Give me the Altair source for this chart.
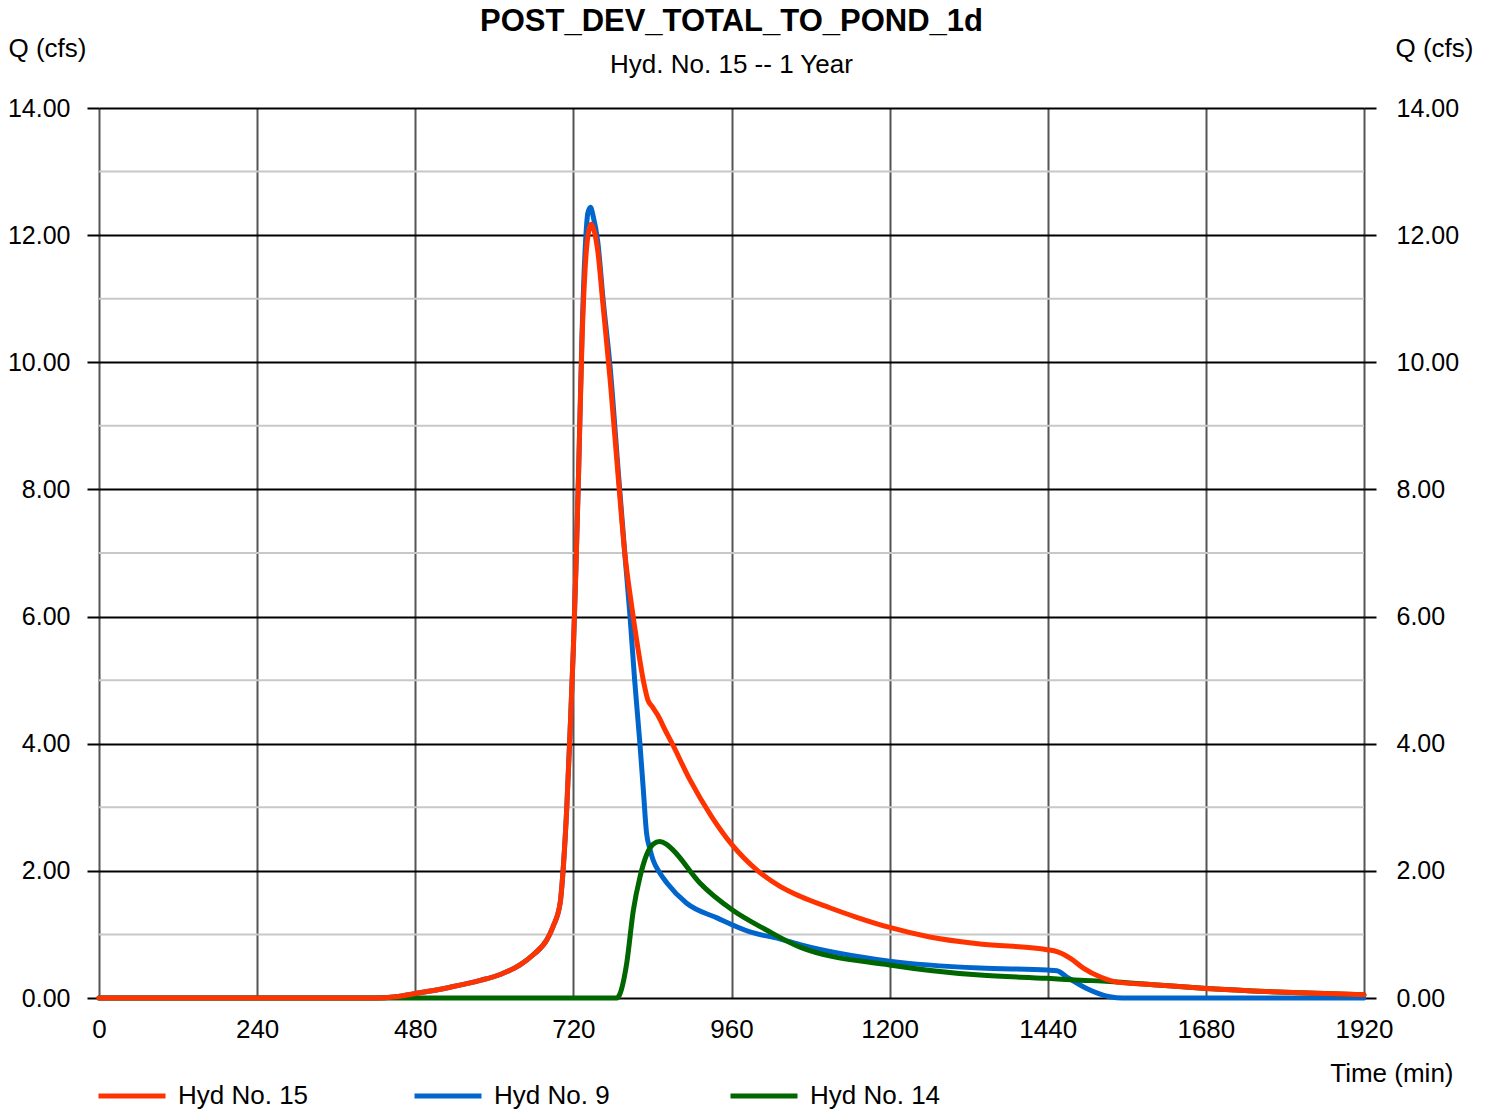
import altair as alt
import pandas as pd

# ---- data ----
t15 = [0, 420, 450, 480, 533, 580, 609, 639, 659, 680, 689, 700, 705, 710, 715, 720, 724, 728, 733,
       738, 743, 747, 752, 757, 765, 776, 788, 798, 808, 818, 827, 833, 840, 848, 860, 870, 897, 930, 960,
       1000, 1033, 1064, 1109, 1150, 1200, 1261, 1337, 1439, 1454, 1475, 1494, 1520, 1545, 1600, 1681, 1800, 1920]
q15 = [0, 0, 0.02, 0.07, 0.17, 0.28, 0.37, 0.52, 0.68, 0.92, 1.12, 1.5, 2.1, 3.0, 4.2, 5.5, 6.8, 8.3, 10.3,
       11.5, 12.05, 12.17, 12.05, 11.75, 10.9, 9.7, 8.2, 7.0, 6.2, 5.5, 4.95, 4.69, 4.58, 4.45, 4.2, 4.0, 3.43, 2.85, 2.42,
       2.0, 1.76, 1.60, 1.42, 1.27, 1.11, 0.96, 0.85, 0.76, 0.73, 0.62, 0.47, 0.33, 0.25, 0.21, 0.15, 0.09, 0.05]

t9 = [0, 420, 450, 480, 533, 580, 609, 639, 659, 680, 689, 700, 705, 710, 715, 720, 724, 728, 733,
      738, 742, 746, 750, 757, 765, 776, 788, 798, 806, 813, 821, 826, 831, 836, 841, 851, 862, 892, 938, 988,
      1033, 1064, 1200, 1337, 1439, 1454, 1469, 1499, 1534, 1554, 1920]
q9 = [0, 0, 0.02, 0.07, 0.17, 0.28, 0.37, 0.52, 0.68, 0.92, 1.12, 1.5, 2.1, 3.0, 4.2, 5.5, 6.8, 8.3, 10.4,
      11.8, 12.35, 12.44, 12.3, 11.9, 11.0, 9.9, 8.3, 7.0, 6.0, 5.0, 4.0, 3.3, 2.6, 2.35, 2.17, 1.97, 1.81, 1.49, 1.26, 1.04,
      0.93, 0.84, 0.58, 0.47, 0.44, 0.43, 0.33, 0.15, 0.02, 0, 0]

t14 = [0, 786, 790, 801, 811, 821, 831, 841, 851, 861, 871, 912, 962, 1013, 1064, 1200, 1337, 1439,
       1489, 1534, 1545, 1600, 1681, 1800, 1920]
q14 = [0, 0, 0.05, 0.55, 1.38, 1.9, 2.25, 2.42, 2.46, 2.42, 2.33, 1.81, 1.38, 1.07, 0.80, 0.52, 0.36, 0.31,
       0.28, 0.26, 0.25, 0.21, 0.15, 0.09, 0.05]

series_names = ["Hyd No. 15", "Hyd No. 9", "Hyd No. 14"]
series_colors = ["#FF3300", "#0066CC", "#006600"]

x_ticks = list(range(0, 1921, 240))
y_major = [0, 2, 4, 6, 8, 10, 12, 14]
y_minor = [1, 3, 5, 7, 9, 11, 13]

FONT = "Liberation Sans"

df15 = pd.DataFrame({"t": t15, "q": q15, "s": series_names[0]})
df9 = pd.DataFrame({"t": t9, "q": q9, "s": series_names[1]})
df14 = pd.DataFrame({"t": t14, "q": q14, "s": series_names[2]})
df_minor = pd.DataFrame({"v": y_minor})

xscale = alt.Scale(domain=[0, 1920], nice=False, zero=False)
yscale = alt.Scale(domain=[0, 14], nice=False)

color = alt.Color(
    "s:N",
    scale=alt.Scale(domain=series_names, range=series_colors),
    legend=alt.Legend(
        orient="none", legendX=-3, legendY=952, direction="horizontal", title=None,
        symbolType="stroke", symbolSize=4489, symbolStrokeWidth=5,
        labelFontSize=26, labelFont=FONT, labelColor="black", labelOffset=10,
        columnPadding=95, gridAlign="all", padding=0, labelLimit=300,
    ),
)

x_enc = alt.X(
    "t:Q", scale=xscale,
    axis=alt.Axis(
        values=x_ticks, format="d", title="Time (min)", grid=True, gridColor="#555555", gridWidth=2,
        ticks=False, tickSize=0, domain=False, labelFontSize=26, labelPadding=18, labelFlush=False,
        labelColor="black", labelFont=FONT,
        titleX=1354, titleY=75, titleAlign="right", titleBaseline="middle",
        titleFontWeight="normal", titleFontSize=26, titleFont=FONT, titleColor="black",
    ),
)

y_enc = alt.Y(
    "q:Q", scale=yscale,
    axis=alt.Axis(
        values=y_major, format=".2f", grid=True, gridColor="black", gridWidth=2,
        tickSize=12, tickColor="black", tickWidth=2, domain=False,
        labelPadding=17, labelFontSize=25, labelFont=FONT, labelColor="black",
        title="Q (cfs)", titleAngle=0, titleX=-91, titleY=-60, titleAlign="left",
        titleBaseline="middle", titleFontWeight="normal", titleFontSize=26, titleFont=FONT,
        titleColor="black",
    ),
)


def line_layer(df):
    return alt.Chart(df).mark_line(
        strokeWidth=5, interpolate="monotone", strokeCap="round", strokeJoin="round"
    ).encode(x=x_enc, y=y_enc, color=color)


lines = alt.layer(line_layer(df9), line_layer(df14), line_layer(df15))

minor = alt.Chart(df_minor).mark_rule(color="#c8c8c8", strokeWidth=2).encode(
    y=alt.Y(
        "v:Q", scale=yscale,
        axis=alt.Axis(
            orient="right", values=y_major, format=".2f", grid=False,
            tickSize=12, tickColor="black", tickWidth=2, domain=False,
            labelPadding=20, labelFontSize=25, labelFont=FONT, labelColor="black",
            title="Q (cfs)", titleAngle=0, titleX=31, titleY=-60, titleAlign="left",
            titleBaseline="middle", titleFontWeight="normal", titleFontSize=26, titleFont=FONT,
            titleColor="black",
        ),
    )
)

chart = alt.layer(minor, lines).resolve_scale(y="independent").properties(
    width=1265, height=890,
    autosize=alt.AutoSizeParams(type="none"),
    padding={"left": 91, "top": 100, "right": 122, "bottom": 120},
    title=alt.Title(
        "POST_DEV_TOTAL_TO_POND_1d", subtitle="Hyd. No. 15 -- 1 Year",
        fontSize=31, fontWeight="bold", font=FONT, color="black",
        subtitleFontSize=26, subtitleFont=FONT, subtitleColor="black",
        anchor="middle", frame="group", offset=-44, subtitlePadding=14,
    ),
).configure_view(stroke=None).configure(font=FONT)

chart.save("out.html", embed_options={"renderer": "svg", "actions": False})
